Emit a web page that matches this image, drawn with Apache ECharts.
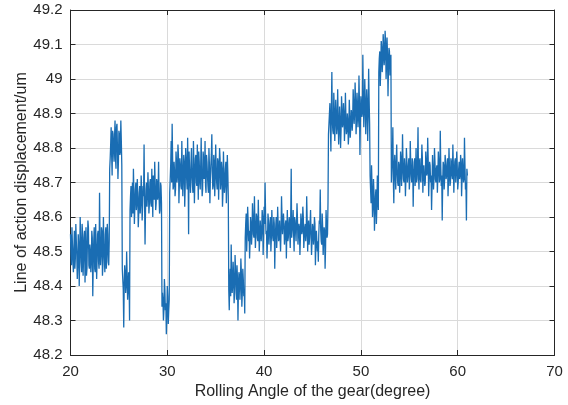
<!DOCTYPE html>
<html>
<head>
<meta charset="utf-8">
<script src="https://cdn.jsdelivr.net/npm/echarts@6/dist/echarts.min.js"></script>
<style>
  html, body { margin: 0; padding: 0; background: #ffffff; }
  #chart { width: 568px; height: 405px; }
</style>
</head>
<body>
<div id="chart"></div>
<script>
// Rolling angle sampling (degree)
const angleStart = 20;
const angleStep = 0.05;

// Line-of-action displacement (um), one array per contact plateau
const plateau01 = [48.55,
  48.49,48.46, 48.57,48.52, 48.47,48.44, 48.51,48.56, 48.45,48.48,
  48.58,48.53, 48.49,48.42, 48.46,48.55, 48.52,48.40, 48.47,48.60,
  48.54,48.47, 48.44,48.58, 48.55,48.43, 48.48,48.54, 48.56,48.41,
  48.50,48.57, 48.43,48.45, 48.53,48.59, 48.57,48.46, 48.45,48.52,
  48.50,48.44, 48.47,48.56, 48.54,48.37, 48.46,48.53, 48.57,48.45,
  48.44,48.58, 48.51,48.42, 48.48,48.55, 48.56,48.47, 48.45,48.67,
  48.53,48.46, 48.49,48.57, 48.56,48.43, 48.46,48.60, 48.52,48.48,
  48.44,48.55, 48.57,48.45, 48.49,48.58, 48.55,48.47, 48.46,48.53];
const plateau02 = [48.74,48.77, 48.81,48.86, 48.78,48.72, 48.85,48.84, 48.79,48.76,
  48.83,48.88, 48.77,48.74, 48.86,48.87, 48.80,48.71, 48.76,48.85,
  48.84,48.78, 48.79,48.88, 48.82,48.75];
const plateau03 = [48.45,48.42, 48.39,48.28, 48.41,48.46, 48.44,48.38,
  48.40,48.50, 48.43,48.36, 48.39,48.44, 48.42,48.30];
const plateau04 = [48.62,48.66, 48.69,48.60, 48.63,48.70, 48.61,48.74, 48.67,48.58,
  48.63,48.68, 48.70,48.62, 48.64,48.71, 48.66,48.57, 48.61,48.67,
  48.69,48.61, 48.64,48.72, 48.68,48.59, 48.63,48.69, 48.66,48.81,
  48.65,48.52, 48.62,48.68, 48.70,48.63, 48.66,48.73, 48.68,48.61,
  48.64,48.70, 48.71,48.64, 48.63,48.74, 48.67,48.60, 48.72,48.69,
  48.65,48.76, 48.69,48.62, 48.64,48.71, 48.70,48.65, 48.67,48.76,
  48.66,48.61, 48.62,48.70, 48.69,48.64];
const plateau05 = [48.34,48.38, 48.36,48.30, 48.33,48.42, 48.39,48.33,
  48.35,48.26, 48.31,48.40, 48.37,48.29, 48.33,48.36];
const plateau06 = [48.67,48.71, 48.75,48.82, 48.70,48.87, 48.77,48.68, 48.69,48.76,
  48.73,48.66, 48.68,48.79, 48.76,48.70, 48.72,48.81, 48.78,48.64,
  48.70,48.77, 48.75,48.69, 48.68,48.82, 48.74,48.66, 48.71,48.78,
  48.76,48.63, 48.69,48.80, 48.77,48.71, 48.68,48.83, 48.73,48.55,
  48.79,48.74, 48.70,48.67, 48.76,48.80, 48.72,48.69, 48.67,48.82,
  48.75,48.64, 48.71,48.77, 48.78,48.70, 48.69,48.81, 48.74,48.65,
  48.79,48.76, 48.70,48.68, 48.75,48.83, 48.72,48.66, 48.68,48.79,
  48.77,48.71, 48.73,48.82, 48.69,48.67, 48.78,48.76, 48.72,48.69,
  48.67,48.80, 48.75,48.64, 48.71,48.75, 48.78,48.84, 48.73,48.68,
  48.69,48.78, 48.76,48.66, 48.71,48.81, 48.74,48.70, 48.68,48.77,
  48.76,48.65, 48.72,48.80, 48.77,48.68, 48.70,48.76, 48.74,48.63,
  48.67,48.79, 48.73,48.67, 48.69,48.74, 48.76,48.64, 48.70,48.78,
  48.73,48.66];
const plateau07 = [48.39,48.33, 48.41,48.45, 48.37,48.52, 48.44,48.38, 48.40,48.47,
  48.43,48.35, 48.38,48.49, 48.45,48.40, 48.36,48.46, 48.42,48.30,
  48.39,48.44, 48.43,48.36, 48.40,48.48, 48.44,48.34, 48.38,48.45,
  48.42,48.37, 48.39,48.32];
const plateau08 = [48.54,48.58, 48.61,48.50, 48.55,48.63, 48.59,48.53, 48.56,48.48,
  48.53,48.60, 48.58,48.52, 48.55,48.64, 48.60,48.55,
  48.54,48.66, 48.58,48.51, 48.55,48.61, 48.60,48.54, 48.53,48.65,
  48.57,48.50, 48.54,48.59, 48.59,48.53, 48.56,48.62, 48.60,48.49,
  48.55,48.63, 48.58,48.70, 48.61,48.55, 48.56,48.48, 48.53,48.61,
  48.59,48.52, 48.55,48.58, 48.60,48.50, 48.54,48.62, 48.57,48.54,
  48.53,48.60, 48.58,48.45, 48.54,48.57, 48.60,48.51, 48.55,48.63,
  48.58,48.53, 48.54,48.59, 48.59,48.50, 48.56,48.66, 48.60,48.55,
  48.55,48.61, 48.58,48.52, 48.54,48.58, 48.59,48.48, 48.56,48.62,
  48.53,48.54, 48.58,48.60, 48.55,48.51, 48.60,48.74, 48.54,48.56,
  48.58,48.62, 48.55,48.50, 48.60,48.59, 48.56,48.53, 48.53,48.64,
  48.59,48.52, 48.55,48.58, 48.57,48.49, 48.54,48.61, 48.59,48.55,
  48.56,48.63, 48.60,48.51, 48.54,48.57, 48.58,48.53, 48.55,48.66,
  48.59,48.50, 48.56,48.59, 48.52,48.54, 48.58,48.62, 48.55,48.49,
  48.53,48.58, 48.57,48.52, 48.54,48.60, 48.58,48.46, 48.52,48.56,
  48.56,48.50, 48.53,48.47, 48.55,48.59, 48.58,48.68, 48.56,48.53,
  48.52,48.61, 48.57,48.49, 48.53,48.57, 48.56,48.45, 48.51,48.62,
  48.58,48.54, 48.55,48.64];
const plateau09 = [48.84,48.87, 48.90,48.93, 48.86,48.79,
  48.91,49.02, 48.88,48.85, 48.84,48.96, 48.91,48.82, 48.87,48.94,
  48.90,48.84, 48.86,48.97, 48.89,48.81, 48.85,48.92, 48.88,48.80,
  48.85,48.95, 48.91,48.86, 48.87,48.93, 48.90,48.82, 48.86,48.96,
  48.89,48.84, 48.85,48.90, 48.88,48.81, 48.84,48.94, 48.89,48.83,
  48.86,48.91, 48.90,48.85, 48.88,48.97, 48.93,48.87, 48.90,48.99,
  48.94,48.84, 48.88,48.96, 48.92,48.86, 48.89,49.01, 48.93,48.78,
  48.88,48.95, 48.93,48.89, 48.90,49.07, 48.95,48.86, 48.91,49.00,
  48.94,48.84, 48.90,48.97, 48.93,48.82, 48.89,49.03, 48.94,48.87];
const plateau10 = [48.72,48.68, 48.64,48.75, 48.69,48.60, 48.63,48.71, 48.67,48.56,
  48.61,48.66, 48.68,48.58, 48.63,48.72, 48.66,48.62];
const plateau11 = [49.02,49.06, 49.08,48.98, 49.03,49.11, 49.09,49.02, 49.05,49.13,
  49.10,49.04, 49.06,49.14, 49.11,49.00, 49.04,49.12, 49.07,48.95,
  49.03,49.09, 49.08,49.01, 49.04,49.07];
const plateau12 = [48.70,48.74, 48.77,48.86, 48.71,48.64, 48.75,48.78, 48.72,48.68,
  48.76,48.81, 48.73,48.70, 48.69,48.76,
  48.75,48.67, 48.71,48.79, 48.77,48.69, 48.73,48.84, 48.76,48.71,
  48.70,48.77, 48.74,48.66, 48.71,48.80, 48.76,48.70, 48.72,48.75,
  48.77,48.68, 48.71,48.82, 48.75,48.72, 48.70,48.77, 48.76,48.63,
  48.72,48.74, 48.77,48.69, 48.73,48.80, 48.70,48.71, 48.76,48.86,
  48.72,48.68, 48.76,48.77, 48.71,48.70, 48.74,48.81, 48.77,48.67,
  48.72,48.75, 48.75,48.69, 48.70,48.79, 48.76,48.72, 48.73,48.83,
  48.77,48.66, 48.71,48.76, 48.75,48.70, 48.72,48.62, 48.69,48.78,
  48.74,48.68, 48.71,48.80, 48.76,48.71, 48.70,48.74, 48.75,48.67,
  48.72,48.79, 48.76,48.70, 48.71,48.85, 48.75,48.69, 48.72,48.59,
  48.70,48.76, 48.75,48.68, 48.71,48.78, 48.76,48.71, 48.72,48.75,
  48.77,48.66, 48.71,48.80, 48.74,48.69, 48.70,48.77, 48.76,48.72,
  48.71,48.81, 48.75,48.67, 48.72,48.76, 48.77,48.70, 48.73,48.79,
  48.75,48.68, 48.70,48.74, 48.76,48.71, 48.72,48.78, 48.76,48.66,
  48.71,48.77, 48.74,48.70, 48.71,48.83, 48.75,48.68, 48.70,48.59,
  48.74,48.72];

const displacement = [].concat(plateau01, plateau02, plateau03, plateau04,
  plateau05, plateau06, plateau07, plateau08, plateau09, plateau10,
  plateau11, plateau12);
const points = displacement.map((v, i) => [+(angleStart + i * angleStep).toFixed(2), v]);

const ink = '#262626';
const font = 'Liberation Sans, Arial, Helvetica, sans-serif';

const frameAxis = {
  axisLine: { show: true, onZero: false, lineStyle: { color: ink, width: 1 } },
  axisTick: { show: true, inside: true, length: 5, lineStyle: { color: ink, width: 1 } }
};

const chart = echarts.init(document.getElementById('chart'), null, { renderer: 'canvas' });
chart.setOption({
  animation: false,
  backgroundColor: '#ffffff',
  grid: { left: 70.5, right: 13.5, top: 10, bottom: 45.5, containLabel: false },
  xAxis: [
    Object.assign({
      type: 'value', min: 20, max: 70, interval: 10, position: 'bottom',
      axisLabel: { color: ink, fontSize: 15, fontFamily: font, margin: 9 },
      splitLine: { show: true, lineStyle: { color: '#dadada', width: 1 } },
      name: 'Rolling Angle of the gear(degree)', nameLocation: 'middle', nameGap: 29,
      nameMoveOverlap: false,
      nameTextStyle: { color: ink, fontSize: 16, fontFamily: font }
    }, frameAxis),
    Object.assign({
      type: 'value', min: 20, max: 70, interval: 10, position: 'top',
      axisLabel: { show: false }, splitLine: { show: false }
    }, frameAxis)
  ],
  yAxis: [
    Object.assign({
      type: 'value', min: 48.2, max: 49.2, interval: 0.1, position: 'left',
      axisLabel: { color: ink, fontSize: 15, fontFamily: font, margin: 8 },
      splitLine: { show: true, lineStyle: { color: '#dadada', width: 1 } },
      name: 'Line of action displacement/um', nameLocation: 'middle', nameGap: 41,
      nameMoveOverlap: false,
      nameTextStyle: { color: ink, fontSize: 16, fontFamily: font }
    }, frameAxis),
    Object.assign({
      type: 'value', min: 48.2, max: 49.2, interval: 0.1, position: 'right',
      axisLabel: { show: false }, splitLine: { show: false }
    }, frameAxis)
  ],
  series: [{
    type: 'line',
    data: points,
    xAxisIndex: 0,
    yAxisIndex: 0,
    showSymbol: false,
    symbol: 'none',
    sampling: null,
    lineStyle: { color: '#1a6db3', width: 1.3 },
    emphasis: { disabled: true }
  }]
});
</script>
</body>
</html>
